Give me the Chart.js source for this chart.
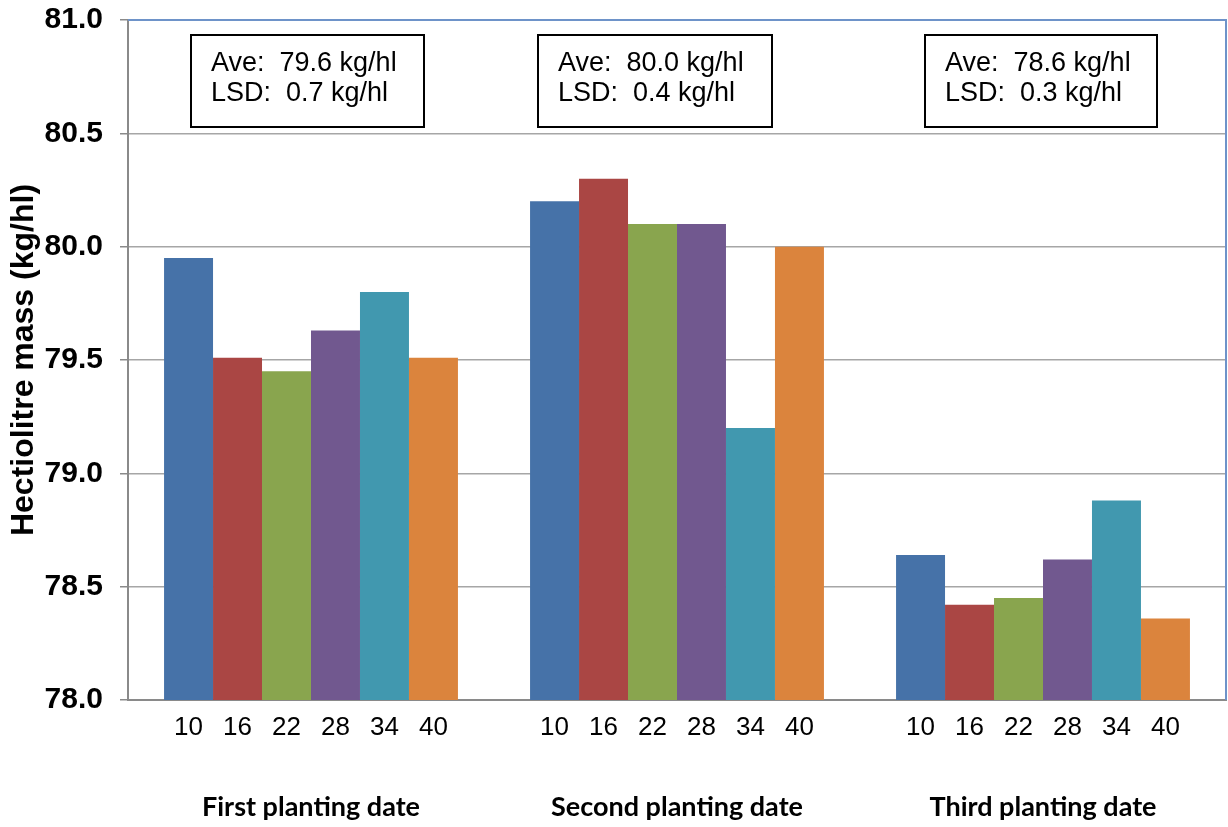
<!DOCTYPE html>
<html>
<head>
<meta charset="utf-8">
<script src="https://cdn.jsdelivr.net/npm/chart.js@4/dist/chart.umd.min.js"></script>
<style>
  html, body { margin: 0; padding: 0; background: #ffffff; }
  #wrap { width: 1228px; height: 827px; }
</style>
</head>
<body>
<div id="wrap"><canvas id="c" width="1228" height="827"></canvas></div>
<script>
// Planting dates (category groups)
const plantingDates = ['First planting date', 'Second planting date', 'Third planting date'];
// Sub-treatments within each planting date
const treatments = ['10', '16', '22', '28', '34', '40'];
// Hectolitre mass per treatment, one array per treatment across the three dates
const mass10 = [79.95, 80.20, 78.64];
const mass16 = [79.51, 80.30, 78.42];
const mass22 = [79.45, 80.10, 78.45];
const mass28 = [79.63, 80.10, 78.62];
const mass34 = [79.80, 79.20, 78.88];
const mass40 = [79.51, 80.00, 78.36];
// Per-date summary statistics shown in the boxes
const aveValues = [79.6, 80.0, 78.6];
const lsdValues = [0.7, 0.4, 0.3];
// Y axis ticks
const yTicks = [78.0, 78.5, 79.0, 79.5, 80.0, 80.5, 81.0];

const seriesValues = [mass10, mass16, mass22, mass28, mass34, mass40];
const seriesColors = ['#4672A8', '#AA4644', '#89A54E', '#71588F', '#4198AF', '#DB843D'];

// Summary box placement inside each category slot (pixels from slot left)
const boxLayout = [
  { dx: 63, w: 233 },
  { dx: 44, w: 234 },
  { dx: 65, w: 232 }
];

const FONT = '"Liberation Sans", Arial, sans-serif';

const extrasPlugin = {
  id: 'extras',
  afterDatasetsDraw(chart) {
    const ctx = chart.ctx;
    const area = chart.chartArea;
    // Treatment labels under each bar
    ctx.save();
    ctx.font = '26px ' + FONT;
    ctx.fillStyle = '#000000';
    ctx.textAlign = 'center';
    ctx.textBaseline = 'middle';
    chart.data.datasets.forEach((ds, i) => {
      const meta = chart.getDatasetMeta(i);
      meta.data.forEach(bar => {
        ctx.fillText(ds.label, bar.x, area.bottom + 28);
      });
    });
    ctx.restore();

    // Plot area frame (top and right)
    ctx.save();
    ctx.strokeStyle = '#6E93C9';
    ctx.lineWidth = 2;
    ctx.beginPath();
    ctx.moveTo(area.left, area.top);
    ctx.lineTo(area.right, area.top);
    ctx.lineTo(area.right, area.bottom);
    ctx.stroke();
    ctx.restore();

    // Summary boxes
    const slot = (area.right - area.left) / plantingDates.length;
    ctx.save();
    plantingDates.forEach((d, i) => {
      const left = area.left + slot * i + boxLayout[i].dx;
      const top = area.top + 15;
      const h = 92;
      ctx.fillStyle = '#ffffff';
      ctx.fillRect(left, top, boxLayout[i].w, h);
      ctx.strokeStyle = '#000000';
      ctx.lineWidth = 2;
      ctx.strokeRect(left, top, boxLayout[i].w, h);
      ctx.fillStyle = '#000000';
      ctx.font = '27px ' + FONT;
      ctx.textAlign = 'left';
      ctx.textBaseline = 'alphabetic';
      ctx.fillText('Ave:  ' + aveValues[i].toFixed(1) + ' kg/hl', left + 20, top + 36);
      ctx.fillText('LSD:  ' + lsdValues[i].toFixed(1) + ' kg/hl', left + 20, top + 66);
    });
    ctx.restore();
  }
};

new Chart(document.getElementById('c'), {
  type: 'bar',
  data: {
    labels: plantingDates,
    datasets: treatments.map((t, i) => ({
      label: t,
      data: seriesValues[i],
      backgroundColor: seriesColors[i],
      borderWidth: 0,
      barPercentage: 1.0,
      categoryPercentage: 0.803
    }))
  },
  options: {
    responsive: false,
    animation: false,
    devicePixelRatio: 1,
    layout: { padding: { top: 20, right: 2, left: 0, bottom: 0 } },
    plugins: {
      legend: { display: false },
      tooltip: { enabled: false },
      title: { display: false }
    },
    scales: {
      x: {
        grid: { display: false, drawTicks: false },
        border: { display: true, color: '#8A8A8A', width: 2 },
        ticks: {
          padding: 91,
          color: '#000000',
          font: { family: 'Lato, "Open Sans", sans-serif', size: 27, weight: 'bold' }
        },
        afterFit(scale) {
          scale.height = 127;
          scale.paddingLeft = 0;
          scale.paddingRight = 0;
        }
      },
      y: {
        min: 78,
        max: 81,
        afterBuildTicks(scale) { scale.ticks = yTicks.map(v => ({ value: v })); },
        grid: { color: '#A6A6A6', lineWidth: 1.5, tickLength: 8, tickColor: '#8A8A8A' },
        border: { display: true, color: '#8A8A8A', width: 2 },
        ticks: {
          padding: 17,
          color: '#000000',
          font: { family: FONT, size: 30, weight: 'bold' },
          callback: v => Number(v).toFixed(1)
        },
        title: {
          display: true,
          text: 'Hectiolitre mass (kg/hl)',
          color: '#000000',
          font: { family: FONT, size: 32, weight: 'bold' },
          padding: { top: 5, bottom: 0 }
        },
        afterFit(scale) {
          scale.width = 128;
          scale.paddingTop = 0;
          scale.paddingBottom = 0;
        }
      }
    }
  },
  plugins: [extrasPlugin]
});
</script>
</body>
</html>
